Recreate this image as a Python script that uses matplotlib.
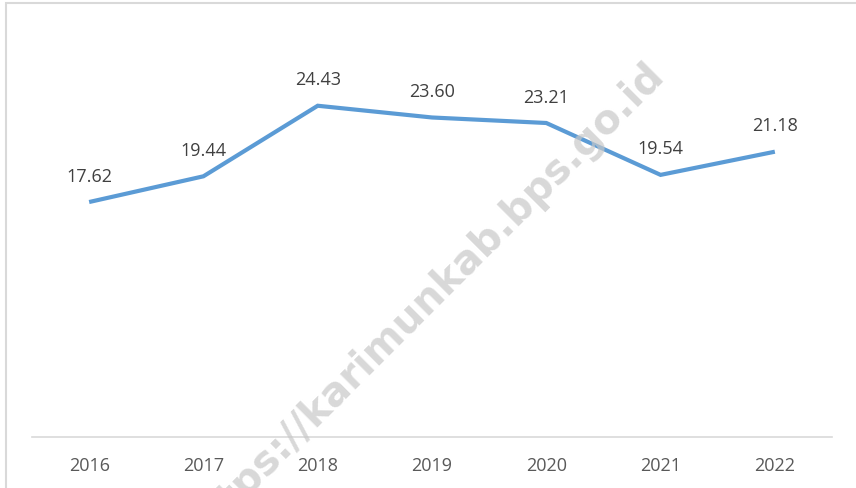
import matplotlib; matplotlib.use("Agg")
import matplotlib.pyplot as plt
from matplotlib.patches import Rectangle

years = ["2016", "2017", "2018", "2019", "2020", "2021", "2022"]
values = [17.62, 19.44, 24.43, 23.60, 23.21, 19.54, 21.18]
labels = ["17.62", "19.44", "24.43", "23.60", "23.21", "19.54", "21.18"]

W, H = 856, 489
plt.rcParams["font.family"] = ["Open Sans", "DejaVu Sans"]
fig = plt.figure(figsize=(W / 100, H / 100), dpi=100)
ax = fig.add_axes([32 / W, 1 - 438 / H, 800 / W, 410 / H])

x = list(range(len(years)))
ax.plot(x, values, color="#5B9BD5", lw=3.0, solid_capstyle="butt", solid_joinstyle="miter", zorder=3)
for xi, v, lab in zip(x, values, labels):
    ax.annotate(lab, (xi, v), xytext=(0, 19), textcoords="offset points",
                ha="center", va="center", fontsize=13, color="#404040")

ax.set_xlim(-0.5, len(years) - 0.5)
ax.set_ylim(1, 30)
ax.set_xticks(x)
ax.set_xticklabels(years, fontsize=13, color="#595959")
ax.tick_params(axis="x", length=0, pad=14)
ax.set_yticks([])
for s in ["top", "left", "right"]:
    ax.spines[s].set_visible(False)
ax.spines["bottom"].set_color("#D9D9D9")
ax.spines["bottom"].set_linewidth(1.2)

# outer chart border
fig.patches.append(Rectangle((6 / W, -0.2), 1.0, 1.2 - 4 / H, transform=fig.transFigure,
                             fill=False, edgecolor="#D9D9D9", lw=1.5))

# watermark
fig.text(424 / W, 1 - 302 / H, "https://karimunkab.bps.go.id", fontsize=29, fontweight="bold",
         color="#C8C8C8", alpha=0.7, rotation=45, rotation_mode="anchor",
         ha="center", va="center", family=["DejaVu Sans"], zorder=10)

fig.savefig("out.png", dpi=100)
